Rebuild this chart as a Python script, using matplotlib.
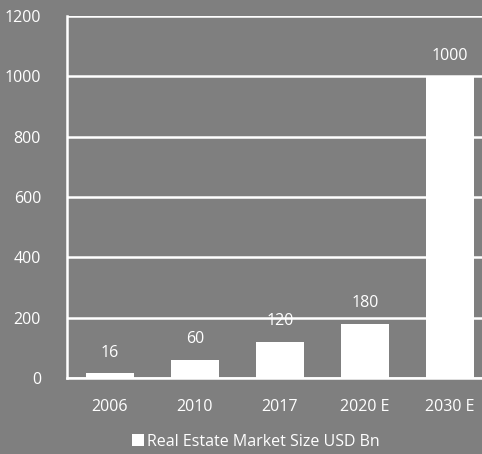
import matplotlib.pyplot as plt

years = ['2006', '2010', '2017', '2020 E', '2030 E']
market_size = [16, 60, 120, 180, 1000]
y_ticks = [0, 200, 400, 600, 800, 1000, 1200]

bg = '#7f7f7f'
plt.rcParams['font.family'] = ['Open Sans', 'DejaVu Sans']

fig = plt.figure(figsize=(4.82, 4.54), dpi=100, facecolor=bg)
ax = fig.add_axes([0.140, 0.1674, 0.8817, 0.797])
ax.set_facecolor(bg)

x = range(len(years))
bars = ax.bar(x, market_size, width=0.565, color='white', zorder=3,
              label='Real Estate Market Size USD Bn')
for xi, v in zip(x, market_size):
    ax.annotate(str(v), (xi, v), xytext=(0, 9), textcoords='offset points',
                ha='center', va='bottom', color='white', fontsize=11.5, zorder=4)

ax.set_xlim(-0.5, 4.5)
ax.set_ylim(0, 1200)
ax.set_yticks(y_ticks)
ax.set_xticks(list(x))
ax.set_xticklabels(years)
ax.tick_params(colors='white', labelsize=11.5, length=0)
ax.tick_params(axis='y', pad=19)
ax.tick_params(axis='x', pad=15)
ax.grid(axis='y', color='white', linewidth=1.8, zorder=1)
for side in ['top', 'right']:
    ax.spines[side].set_visible(False)
for side in ['left', 'bottom']:
    ax.spines[side].set_color('white')
    ax.spines[side].set_linewidth(1.8)

fig.legend(handles=[bars], loc='center', bbox_to_anchor=(0.53, 0.027),
           frameon=False, fontsize=11.5, labelcolor='white',
           handlelength=0.75, handleheight=0.75, handletextpad=0.2)

fig.savefig('out.png', dpi=100, facecolor=bg)
